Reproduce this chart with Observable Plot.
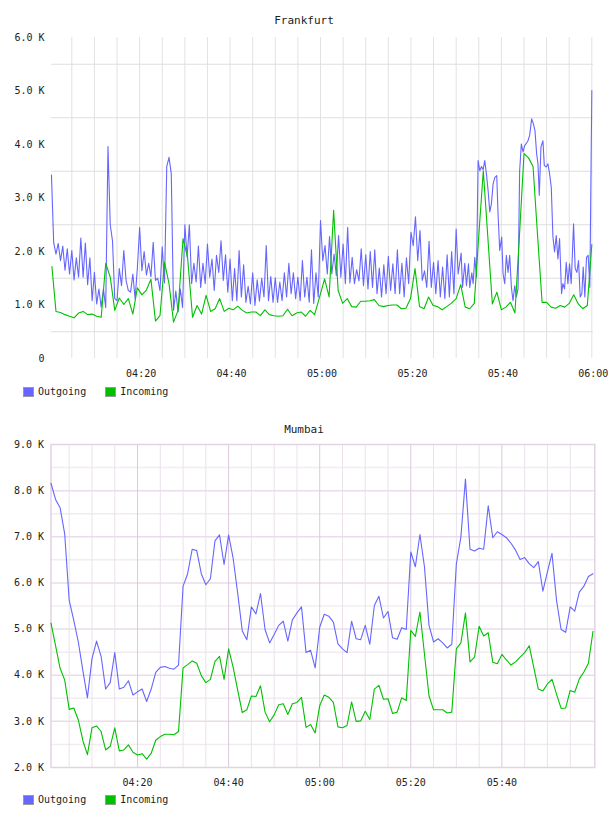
<!DOCTYPE html>
<html><head><meta charset="utf-8">
<script src="https://cdn.jsdelivr.net/npm/d3@7"></script>
<script src="https://cdn.jsdelivr.net/npm/@observablehq/plot@0.6"></script>
<style>
body{margin:0;background:#fff;}
#root{position:relative;width:608px;height:816px;overflow:hidden;font-family:"DejaVu Sans Mono",monospace;color:#222;}
.title{position:absolute;left:0;width:608px;text-align:center;font-size:11px;line-height:12px;}
.legend{position:absolute;left:23px;font-size:10px;line-height:12px;display:flex;align-items:center;white-space:pre;}
.sw{display:inline-block;width:11px;height:10px;border:1px solid #999;box-sizing:border-box;margin-right:4px;}
.chart{position:absolute;left:0;}
</style></head><body><div id="root"></div>
<script>
// ---------- data (minutes after 04:00, values in K) ----------
const seriesNames = ["Outgoing", "Incoming"];
const seriesColors = ["#6666ff", "#00c000"];

const fraOutT1 = [0.5,1,1.5,2,2.5,3,3.5,4,4.5,5,
5.5,6,6.5,7,7.5,8,8.5,9,9.5,10,
10.5,11,11.5,12,12.5,13,13.5,14,14.5,15,
15.5,16,16.5,17,17.5,18,18.5,19,19.5,20,
20.5,21,21.5,22,22.5,23,23.5,24,24.5,25,
25.5,26,26.5,27,27.5,28,28.5,29,29.5,30,
30.5,31,31.5,32,32.5,33,33.5,34,34.5,35,
35.5,36,36.5,37,37.5,38,38.5,39,39.5,40,
40.5,41,41.5,42,42.5,43,43.5,44,44.5,45,
45.5,46,46.5,47,47.5,48,48.5,49,49.5,50,
50.5,51,51.5,52,52.5,53,53.5,54,54.5,55,
55.5,56,56.5,57,57.5,58,58.5,59,59.5,60,
60.5,61,61.5,62,62.5,63,63.5,64,64.5,65,
65.5,66,66.5,67,67.5,68,68.5,69,69.5,70,
70.5,71,71.5,72,72.5,73,73.5,74,74.5,75,
75.5,76,76.5,77,77.5,78,78.5,79,79.5,80,
80.5,81,81.5,82,82.5,83,83.5,84,84.5,85,
85.5,86,86.5,87,87.5,88,88.5,89,89.5,90];
const fraOutV1 = [3.43,2.16,1.95,2.15,1.83,2.10,1.65,2.05,1.58,2.02,
1.47,1.88,1.52,2.25,1.52,2.16,1.38,1.88,1.08,1.61,
1.02,1.30,0.96,1.30,0.95,3.96,2.50,2.20,1.12,1.08,
1.68,1.36,2.02,1.46,1.27,1.24,1.58,1.12,1.69,2.45,
1.64,2.00,1.56,1.78,1.53,2.17,1.46,1.50,1.27,2.09,
1.41,3.59,3.76,3.45,0.90,1.26,0.87,1.30,0.95,2.50,
1.90,2.50,1.40,1.78,1.43,2.10,1.33,1.78,1.40,2.14,
1.52,1.86,1.27,1.93,1.61,2.20,1.46,1.94,1.24,1.86,
1.08,1.68,1.08,2.02,1.15,1.75,1.05,1.35,1.02,1.60,
0.99,1.47,1.07,1.50,1.15,2.11,1.08,1.53,1.05,1.51,
1.05,1.43,1.08,1.60,1.15,1.78,1.21,1.60,1.12,1.52,
1.08,1.83,1.15,1.52,1.05,2.03,1.03,1.60,1.15,2.58,
1.83,2.11,1.58,2.28,1.58,1.95,1.55,2.30,1.52,2.14,
1.40,2.45,1.41,1.89,1.40,1.66,1.45,2.05,1.36,1.94,
1.30,2.00,1.33,2.03,1.21,1.69,1.15,1.75,1.21,1.91,
1.27,1.77,1.21,2.03,1.21,1.78,1.15,1.88,1.40,2.36,
2.11,2.65,1.83,2.39,1.46,1.64,1.33,2.19,1.33,1.80,
1.21,1.83,1.15,1.71,1.12,1.94,1.15,2.00,1.21,2.42];
const fraOutT2 = [90.44,91.10,91.40,91.91,92.28,92.72,93.01,93.46,93.75,94.12,
94.49,94.85,95.22,95.59,95.96,96.32,96.69,97.06,97.43,97.79,
98.16,98.53,98.97,99.26,99.63,100.07,100.37,100.74,101.10,101.47,
101.84,102.21,102.57,102.94,103.31,103.68,104.04,104.41,104.78,105.15,
105.51,105.88,106.25,106.69,107.06,107.43,107.79,108.09,108.38,108.75,
109.19,109.49,109.93,110.29,110.66,111.03,111.40,111.76,112.13,112.50,
112.87,113.31,113.60,113.97,114.34,114.71,115.07,115.44,115.96,116.32,
116.69,117.06,117.43,117.79,118.09,118.46,118.82,119.19,119.56,120.00];
const fraOutV2 = [1.58,1.97,1.33,1.78,1.36,1.77,1.33,1.60,1.40,1.89,
1.52,3.70,3.51,3.59,3.53,3.70,3.45,3.14,2.74,2.89,
3.26,3.38,3.42,2.70,2.02,2.27,1.58,1.40,1.93,1.61,
1.93,1.33,1.08,1.36,1.15,1.30,3.51,4.01,3.86,3.98,
4.02,4.07,4.17,4.48,4.39,4.26,3.83,3.64,3.05,3.95,
4.07,3.61,3.58,3.64,3.45,3.20,2.27,1.99,2.30,1.86,
2.24,1.21,1.40,1.30,1.80,1.40,1.77,1.40,2.52,1.68,
1.61,1.83,1.15,1.21,1.71,1.15,1.89,1.93,1.33,5.01];

const fraInT = [0.6,1.5,2.5,3.5,4.5,5.5,6.5,7.5,8.5,9.5,
10.5,11.5,12.5,13.5,14.5,15.5,16.5,17.5,18.5,19.5,
20.5,21.5,22.5,23.5,24.5,25.5,26.5,27.5,28.5,29.6,
30.6,31.7,32.7,33.7,34.7,35.7,36.7,37.7,38.7,39.7,
40.7,41.7,42.7,43.7,44.7,45.7,46.7,47.7,48.7,49.7,
50.7,51.7,52.7,53.7,54.7,55.7,56.7,57.7,58.7,59.8,
60.9,61.9,62.9,63.9,64.9,65.9,66.9,67.9,68.9,69.9,
70.9,71.9,72.9,73.9,74.9,75.9,76.9,77.9,78.9,79.9,
80.9,81.9,82.9,83.9,84.9,85.9,86.9,87.9,88.9,90,
91,92,93,94,95,96,97,98,99,100,
101,102,103,104,105,106,107,108,109,110,
111,112,113,114,115,116,117,118,119,120];
const fraInV = [1.72,0.88,0.86,0.82,0.79,0.76,0.85,0.88,0.82,0.83,
0.79,0.77,1.78,1.52,0.90,1.13,1.01,1.12,0.83,1.32,
1.19,1.28,1.48,0.70,0.80,1.80,1.40,0.68,0.90,2.24,
1.89,0.77,0.99,0.83,1.18,0.88,0.93,1.12,0.88,0.94,
0.91,0.98,0.90,0.85,0.87,0.87,0.80,0.91,0.82,0.80,
0.79,0.80,0.92,0.80,0.85,0.87,0.79,0.90,0.82,1.15,
1.49,1.15,2.77,1.27,1.03,1.12,0.97,0.96,1.07,1.07,
1.08,1.10,0.99,0.97,0.99,1.00,1.00,0.93,0.94,1.12,
1.68,0.97,0.93,1.15,0.99,0.97,0.91,0.97,1.03,1.12,
1.38,0.96,0.93,1.03,2.30,3.51,2.27,1.02,1.24,0.91,
0.96,1.05,0.85,2.30,3.83,3.75,3.59,2.30,1.05,1.05,
0.96,0.94,0.99,0.96,1.03,1.19,1.02,0.93,0.99,2.13];

const mumT = [1,2,3,4,5,6,7,8,9,10,11,12,13,14,15,16,17,18,19,20,
21,22,23,24,25,26,27,28,29,30,31,32,33,34,35,36,37,38,39,40,
41,42,43,44,45,46,47,48,49,50,51,52,53,54,55,56,57,58,59,60,
61,62,63,64,65,66,67,68,69,70,71,72,73,74,75,76,77,78,79,80,
81,82,83,84,85,86,87,88,89,90,91,92,93,94,95,96,97,98,99,100,
101,102,103,104,105,106,107,108,109,110,111,112,113,114,115,116,117,118,119,120];
const mumOutV = [8.16,7.81,7.63,7.07,5.62,5.19,4.72,4.10,3.51,4.36,
4.74,4.41,3.70,3.84,4.49,3.70,3.74,3.88,3.57,3.64,
3.70,3.43,3.70,4.06,4.17,4.19,4.15,4.13,4.22,5.93,
6.20,6.73,6.70,6.20,5.96,6.09,6.91,7.04,6.40,7.04,
6.53,5.77,4.96,4.77,5.48,5.33,5.77,4.99,4.70,4.88,
5.08,5.17,4.74,5.20,5.35,5.48,4.49,4.54,4.16,5.04,
5.32,5.28,5.15,4.68,4.57,4.49,5.17,4.79,4.77,5.08,
4.67,5.51,5.71,5.24,5.38,4.81,4.78,5.03,4.99,6.67,
6.35,7.05,6.35,5.08,4.72,4.79,4.70,4.59,4.67,6.41,
7.00,8.25,6.73,6.69,6.75,6.73,7.67,6.98,7.11,7.05,
6.98,6.86,6.71,6.51,6.55,6.42,6.33,6.46,5.82,6.24,
6.64,5.62,4.99,4.93,5.48,5.39,5.80,5.93,6.14,6.20];
const mumInV = [5.13,4.64,4.15,3.90,3.26,3.29,3.03,2.58,2.28,2.86,
2.90,2.78,2.38,2.46,2.86,2.36,2.38,2.49,2.33,2.27,
2.30,2.18,2.31,2.59,2.67,2.72,2.72,2.71,2.78,4.16,
4.23,4.31,4.26,3.99,3.84,3.91,4.30,4.41,3.91,4.57,
4.17,3.67,3.19,3.25,3.55,3.54,3.77,3.20,2.99,3.14,
3.36,3.38,3.15,3.38,3.41,3.52,2.87,2.93,2.75,3.34,
3.57,3.52,3.41,2.88,2.86,2.91,3.42,3.00,3.01,3.22,
3.04,3.70,3.78,3.48,3.49,3.17,3.20,3.51,3.45,4.97,
4.84,5.37,4.46,3.55,3.25,3.25,3.25,3.18,3.20,4.57,
4.70,5.35,4.29,4.39,5.06,4.85,4.92,4.28,4.25,4.45,
4.33,4.22,4.29,4.39,4.49,4.64,4.17,3.70,3.66,3.81,
3.91,3.59,3.28,3.29,3.67,3.63,3.92,4.07,4.26,4.95];

// tick / grid values
const fraXTicks = [20,40,60,80,100,120];
const fraYTicks = [0,1,2,3,4,5,6];
const fraGridX = [5,10,15,20,25,30,35,40,45,50,55,60,65,70,75,80,85,90,95,100,105,110,115,120];
const fraGridY = [0.5,1.5,2.5,3.5,4.5,5.5];
const mumXTicks = [20,40,60,80,100];
const mumYTicks = [2,3,4,5,6,7,8,9];
const mumGridMinorX = [5,10,15,25,30,35,45,50,55,65,70,75,85,90,95,105,110,115];
const mumGridMajorX = [20,40,60,80,100];
const mumGridHalfY = [2.5,3.5,4.5,5.5,6.5,7.5,8.5];
const mumGridIntY = [3,4,5,6,7,8];

// ---------- helpers ----------
const toRows = (ts, vs) => ts.map((t, i) => ({t, v: vs[i]}));
const fmtTime = m => {
  const h = 4 + Math.floor(m / 60), mm = Math.round(m % 60);
  return String(h).padStart(2, "0") + ":" + String(mm).padStart(2, "0");
};
const fmtK = d => d === 0 ? "0" : d.toFixed(1) + " K";
const style = {fontFamily: "DejaVu Sans Mono, monospace", fontSize: "10px", color: "#222", background: "transparent", overflow: "visible"};

const root = document.getElementById("root");
function addDiv(cls, top, html) {
  const d = document.createElement("div");
  d.className = cls; d.style.top = top + "px"; d.innerHTML = html; root.appendChild(d); return d;
}
function legendHtml() {
  return seriesNames.map((n, i) =>
    `<span class="sw" style="background:${seriesColors[i]}"></span>${n}` + (i === 0 ? "  " : "")
  ).join("<span style='display:inline-block;width:7px'></span>");
}

// ---------- Frankfurt ----------
const fraOut = toRows(fraOutT1.concat(fraOutT2), fraOutV1.concat(fraOutV2));
const fraIn = toRows(fraInT, fraInV);

const fra = Plot.plot({
  width: 608, height: 390,
  marginLeft: 51, marginRight: 15, marginTop: 37, marginBottom: 32,
  style,
  x: {domain: [0.51, 120.37]},
  y: {domain: [0, 6]},
  marks: [
    Plot.gridX(fraGridX, {stroke: "#e2e2e2", strokeOpacity: 1}),
    Plot.gridY(fraGridY, {stroke: "#dedede", strokeOpacity: 1}),
    Plot.axisX({ticks: fraXTicks, tickFormat: fmtTime, tickSize: 0, tickPadding: 11, dx: 1.5, label: null}),
    Plot.axisY({ticks: fraYTicks, tickFormat: fmtK, tickSize: 0, tickPadding: 7, label: null}),
    Plot.line(fraOut, {x: "t", y: "v", stroke: seriesColors[0], strokeWidth: 1.1}),
    Plot.line(fraIn, {x: "t", y: "v", stroke: seriesColors[1], strokeWidth: 1.1})
  ]
});
fra.classList.add("chart"); fra.style.top = "0px";
root.appendChild(fra);
addDiv("title", 15, "Frankfurt");
addDiv("legend", 386, legendHtml());

// ---------- Mumbai ----------
const mumOut = toRows(mumT, mumOutV);
const mumIn = toRows(mumT, mumInV);

const mum = Plot.plot({
  width: 608, height: 390,
  marginLeft: 50.5, marginRight: 13.7, marginTop: 34, marginBottom: 33,
  style,
  x: {domain: [1.0, 120.4]},
  y: {domain: [2, 9]},
  marks: [
    Plot.gridY(mumGridHalfY, {stroke: "#f2ecf2", strokeOpacity: 1, strokeWidth: 1.5}),
    Plot.gridX(mumGridMinorX, {stroke: "#ebe2eb", strokeOpacity: 1}),
    Plot.gridY(mumGridIntY, {stroke: "#eadcea", strokeOpacity: 1, strokeWidth: 1.5}),
    Plot.gridX(mumGridMajorX, {stroke: "#dcc8dc", strokeOpacity: 1}),
    Plot.frame({stroke: "#e2d2e2", strokeWidth: 1.5}),
    Plot.axisX({ticks: mumXTicks, tickFormat: fmtTime, tickSize: 0, tickPadding: 11, label: null}),
    Plot.axisY({ticks: mumYTicks, tickFormat: fmtK, tickSize: 0, tickPadding: 7, label: null}),
    Plot.line(mumOut, {x: "t", y: "v", stroke: seriesColors[0], strokeWidth: 1.1}),
    Plot.line(mumIn, {x: "t", y: "v", stroke: seriesColors[1], strokeWidth: 1.1})
  ]
});
mum.classList.add("chart"); mum.style.top = "410px";
root.appendChild(mum);
addDiv("title", 424, "Mumbai");
addDiv("legend", 794, legendHtml());
</script></body></html>
